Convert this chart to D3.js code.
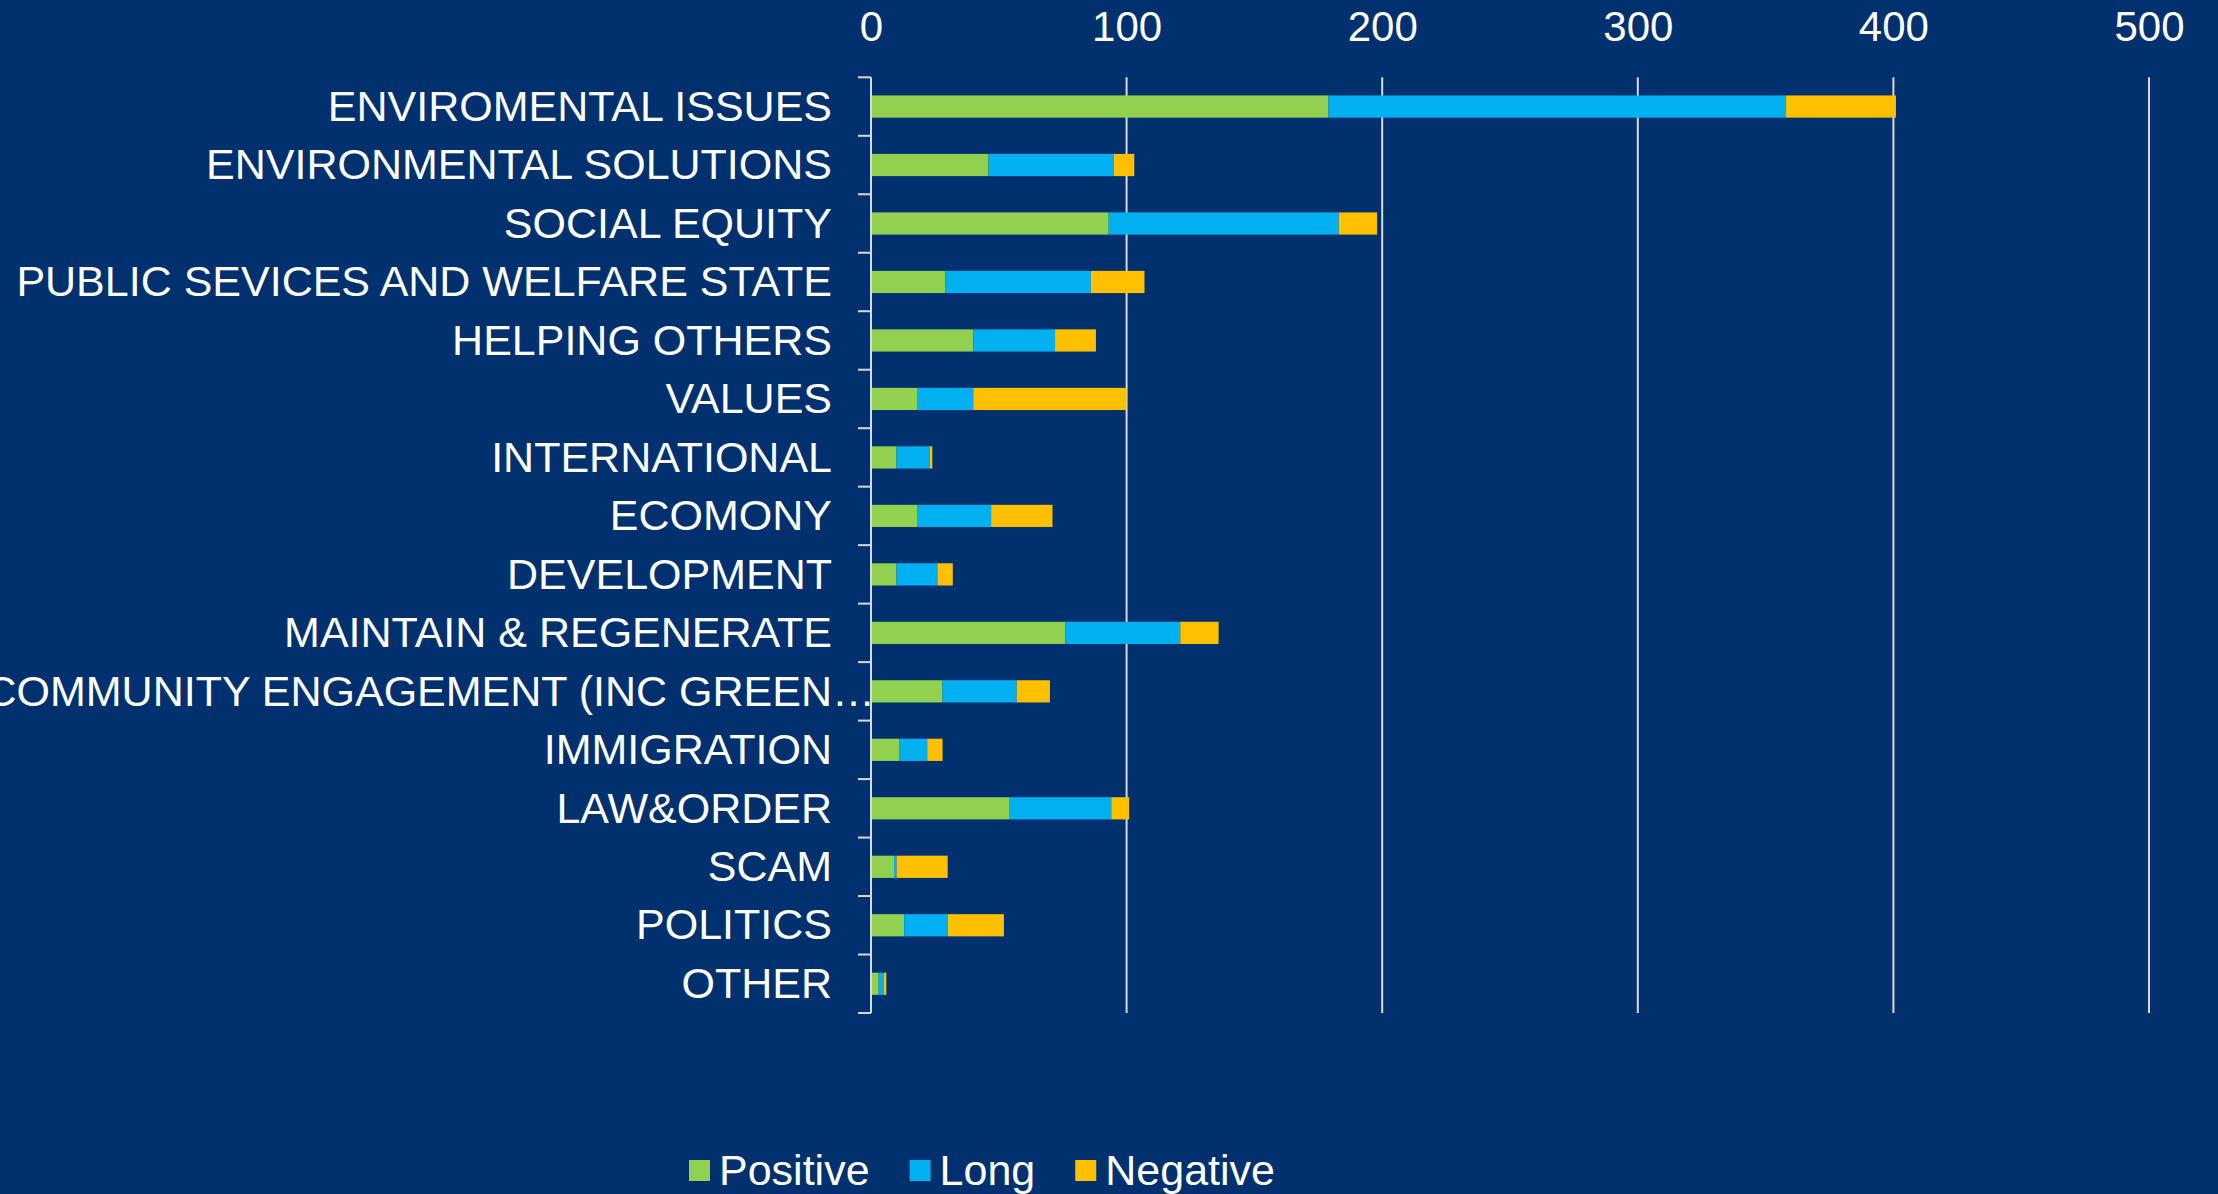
<!DOCTYPE html>
<html>
<head>
<meta charset="utf-8">
<script src="https://cdn.jsdelivr.net/npm/d3@7"></script>
<style>
  html, body { margin: 0; padding: 0; background: #00306D; }
  svg { display: block; }
  text { font-family: "Liberation Sans", Arial, sans-serif; fill: #ffffff; }
</style>
</head>
<body>
<svg id="chart" width="2218" height="1194"></svg>
<script>
// Topic categories, top to bottom
const categories = [
  "ENVIROMENTAL ISSUES",
  "ENVIRONMENTAL SOLUTIONS",
  "SOCIAL EQUITY",
  "PUBLIC SEVICES AND WELFARE STATE",
  "HELPING OTHERS",
  "VALUES",
  "INTERNATIONAL",
  "ECOMONY",
  "DEVELOPMENT",
  "MAINTAIN & REGENERATE",
  "COMMUNITY ENGAGEMENT (INC GREEN\u2026",
  "IMMIGRATION",
  "LAW&ORDER",
  "SCAM",
  "POLITICS",
  "OTHER"
];

// Counts per series
const positive = [179, 46, 93, 29, 40, 18, 10, 18, 10, 76, 28, 11, 54, 9, 13, 3];
const long     = [179, 49, 90, 57, 32, 22, 13, 29, 16, 45, 29, 11, 40, 1, 17, 2];
const negative = [ 43,  8, 15, 21, 16, 60,  1, 24,  6, 15, 13,  6,  7, 20, 22, 1];

const seriesNames  = ["Positive", "Long", "Negative"];
const seriesColors = ["#92D050", "#00B0F0", "#FFC000"];
const xTickValues  = [0, 100, 200, 300, 400, 500];

const svg = d3.select("#chart");
const W = 2218, H = 1194;
svg.append("rect").attr("width", W).attr("height", H).attr("fill", "#00306D");

const plot = { left: 871, right: 2149, top: 77.3, bottom: 1013 };

const x = d3.scaleLinear().domain([0, 500]).range([plot.left, plot.right]);
const y = d3.scaleBand().domain(categories)
  .range([plot.top, plot.bottom])
  .paddingInner(0.62).paddingOuter(0.31);

const rows = categories.map((c, i) => ({ cat: c, Positive: positive[i], Long: long[i], Negative: negative[i] }));
const stacked = d3.stack().keys(seriesNames)(rows);

// Vertical gridlines
svg.append("g").selectAll("line")
  .data(xTickValues.filter(v => v > 0))
  .join("line")
  .attr("x1", d => x(d)).attr("x2", d => x(d))
  .attr("y1", plot.top).attr("y2", plot.bottom)
  .attr("stroke", "#D9D9D9").attr("stroke-width", 2);

// Top value axis
const xAxis = svg.append("g")
  .attr("transform", `translate(0,${plot.top})`)
  .call(d3.axisTop(x).tickValues(xTickValues).tickSize(0).tickPadding(36).tickFormat(d3.format("d")));
xAxis.select(".domain").remove();
xAxis.selectAll("text")
  .attr("fill", "#ffffff")
  .style("font-size", "42px")
  .style("font-family", "'Liberation Sans', Arial, sans-serif");

// Stacked bars
svg.append("g").selectAll("g")
  .data(stacked)
  .join("g")
  .attr("fill", (d, i) => seriesColors[i])
  .selectAll("rect")
  .data(d => d)
  .join("rect")
  .attr("x", d => x(d[0]))
  .attr("width", d => x(d[1]) - x(d[0]))
  .attr("y", d => y(d.data.cat))
  .attr("height", y.bandwidth());

// Category axis line and boundary ticks
svg.append("line")
  .attr("x1", x(0)).attr("x2", x(0))
  .attr("y1", plot.top).attr("y2", plot.bottom)
  .attr("stroke", "#D9D9D9").attr("stroke-width", 2);

const step = y.step();
svg.append("g").selectAll("line")
  .data(d3.range(categories.length + 1))
  .join("line")
  .attr("x1", x(0) - 13).attr("x2", x(0))
  .attr("y1", i => plot.top + i * step).attr("y2", i => plot.top + i * step)
  .attr("stroke", "#D9D9D9").attr("stroke-width", 2);

// Category labels
svg.append("g").selectAll("text")
  .data(categories)
  .join("text")
  .attr("x", d => d.endsWith("\u2026") ? 875 : 832)
  .attr("y", d => y(d) + y.bandwidth() / 2)
  .attr("dy", "0.33em")
  .attr("text-anchor", "end")
  .style("font-size", "43px")
  .text(d => d);

// Legend
const legend = svg.append("g");
let lx = 689;
seriesNames.forEach((name, i) => {
  legend.append("rect")
    .attr("x", lx).attr("y", 1160)
    .attr("width", 21).attr("height", 21)
    .attr("fill", seriesColors[i]);
  const t = legend.append("text")
    .attr("x", lx + 30).attr("y", 1185)
    .style("font-size", "43px")
    .text(name);
  lx = lx + 30 + t.node().getComputedTextLength() + 40;
});
</script>
</body>
</html>
